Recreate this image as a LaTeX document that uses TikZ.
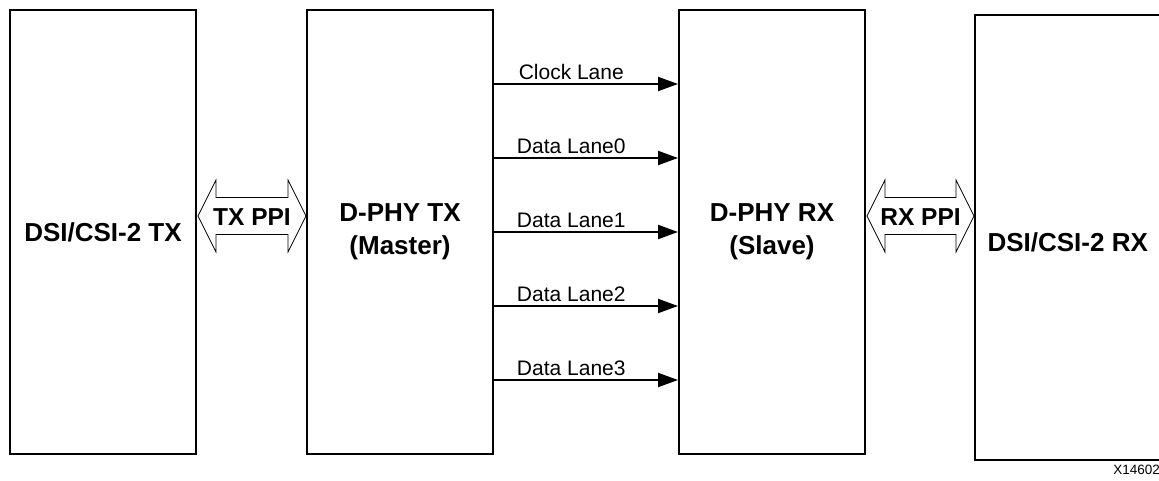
\documentclass[tikz,border=0pt]{standalone}
\usepackage{fontspec}
\setmainfont{Liberation Sans}
\usetikzlibrary{arrows.meta}
\tikzset{
  blockbox/.style={draw, line width=2pt, minimum width=186pt, inner sep=0pt, font=\fontsize{26}{33}\selectfont\bfseries, align=center},
  lanearrow/.style={line width=2pt, -{Triangle[length=20pt,width=14pt]}},
  lanelabel/.style={font=\fontsize{21}{25}\selectfont, above, inner sep=3pt, pos=0.42},
  ppi/.style={draw, line width=0.8pt, fill=white},
  ppitext/.style={font=\fontsize{24.5}{30}\selectfont\bfseries, inner sep=0pt}
}
\begin{document}
\begin{tikzpicture}[x=1pt,y=-1pt]
\useasboundingbox (0,0) rectangle (1159,481);
\clip (0,0) rectangle (1159,481);
% blocks
\node[blockbox, minimum height=444pt] (tx) at (103,232) {DSI/CSI-2 TX};
\node[blockbox, minimum height=444pt] (txm) at (400,232) {D-PHY TX\\(Master)};
\node[blockbox, minimum height=444pt] (rxs) at (772,232) {D-PHY RX\\(Slave)};
\node[draw, line width=2pt, minimum width=200pt, minimum height=445pt, inner sep=0pt] (rx) at (1075,237.5) {};
\node[font=\fontsize{26}{33}\selectfont\bfseries, anchor=west] (rxt) at (984,242) {DSI/CSI-2 RX};
% lanes
\draw[lanearrow] (txm.east |- 0,84) -- node[lanelabel] {Clock Lane} (rxs.west |- 0,84);
\draw[lanearrow] (txm.east |- 0,158) -- node[lanelabel] {Data Lane0} (rxs.west |- 0,158);
\draw[lanearrow] (txm.east |- 0,232) -- node[lanelabel] {Data Lane1} (rxs.west |- 0,232);
\draw[lanearrow] (txm.east |- 0,306) -- node[lanelabel] {Data Lane2} (rxs.west |- 0,306);
\draw[lanearrow] (txm.east |- 0,380) -- node[lanelabel] {Data Lane3} (rxs.west |- 0,380);
% PPI double arrows
\draw[ppi] (198,216) -- (216,180) -- (216,197.5) -- (288,197.5) -- (288,180) -- (306,216)
  -- (288,252) -- (288,234.5) -- (216,234.5) -- (216,252) -- cycle;
\node[ppitext] (txppi) at (252,217) {TX PPI};
\draw[ppi] (867,216) -- (885,180) -- (885,197.5) -- (956,197.5) -- (956,180) -- (974,216)
  -- (956,252) -- (956,234.5) -- (885,234.5) -- (885,252) -- cycle;
\node[ppitext] (rxppi) at (920.5,217) {RX PPI};
% figure id
\node[font=\fontsize{13.5}{16}\selectfont, anchor=east, inner sep=0pt] (fid) at (1160,470) {X14602};
\end{tikzpicture}
\end{document}
